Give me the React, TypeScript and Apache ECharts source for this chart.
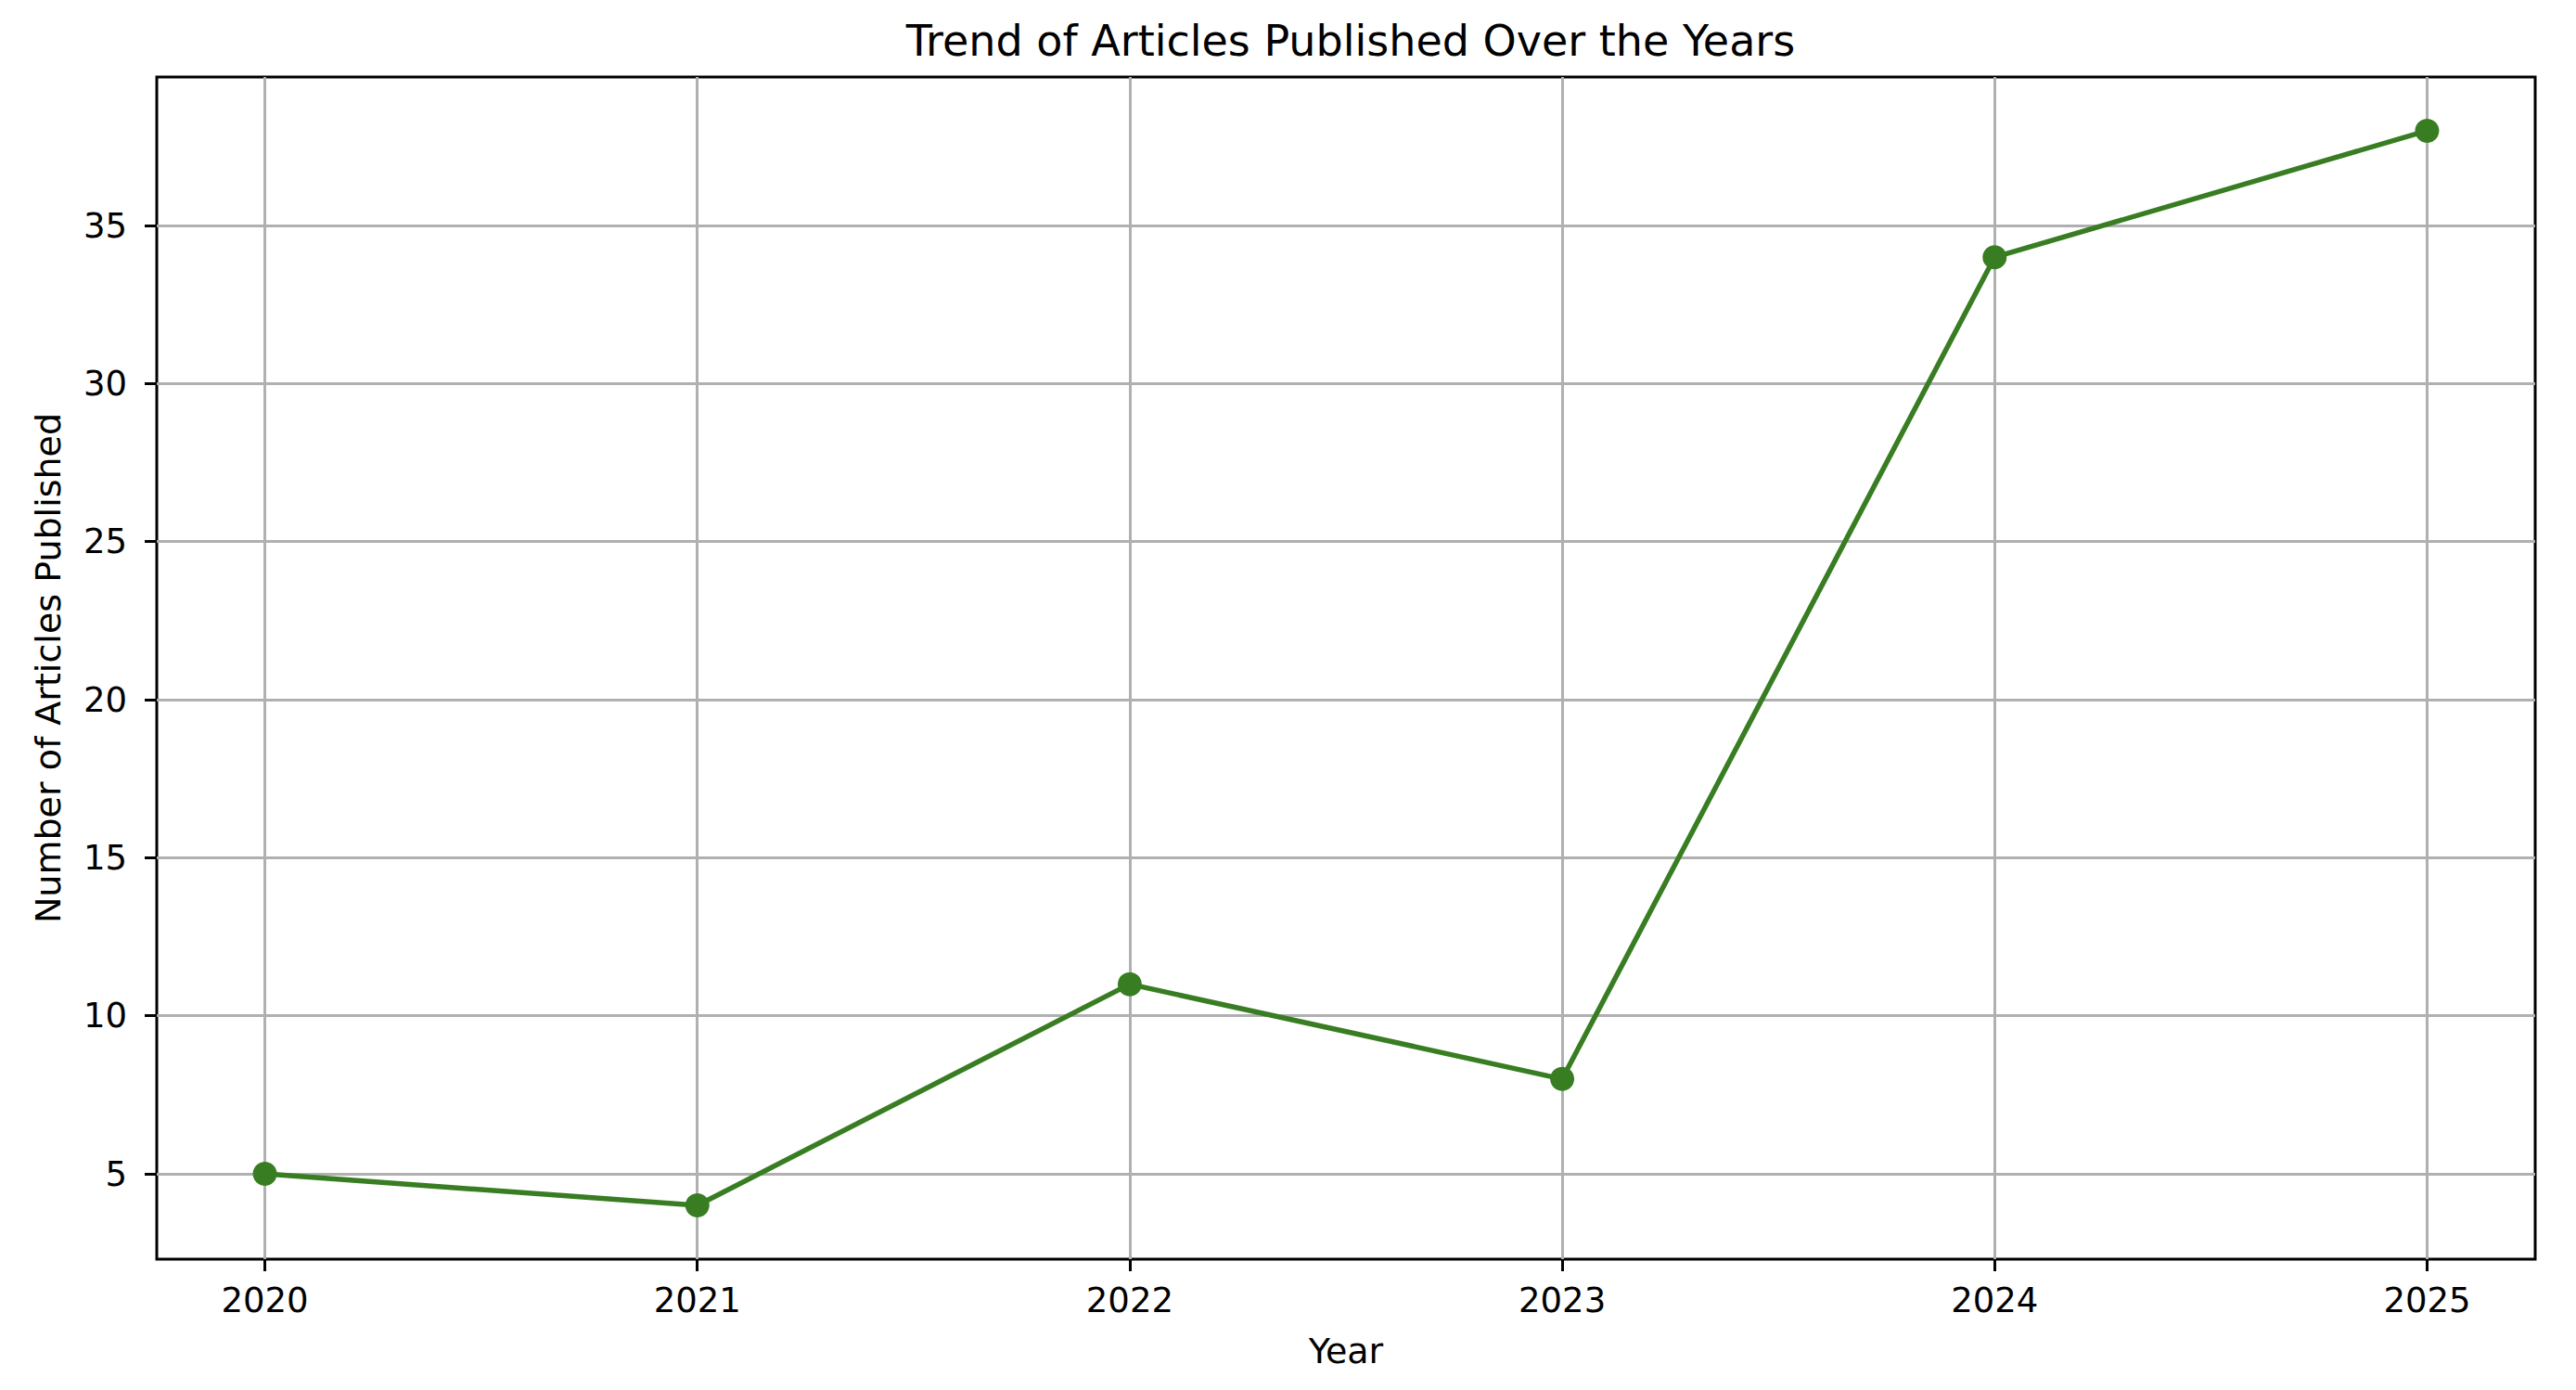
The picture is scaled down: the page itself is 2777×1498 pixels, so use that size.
import React, { useEffect, useRef } from "react";
import * as echarts from "echarts";

const years = [2020, 2021, 2022, 2023, 2024, 2025];
const articles = [5, 4, 11, 8, 34, 38];
const yTicks = [5, 10, 15, 20, 25, 30, 35];

const TITLE = "Trend of Articles Published Over the Years";
const X_NAME = "Year";
const Y_NAME = "Number of Articles Published";

const FONT = "DejaVu Sans";
const LINE_COLOR = "#387D22";
const GRID_COLOR = "#b0b0b0";

export default function App() {
  const ref = useRef<HTMLDivElement>(null);

  useEffect(() => {
    if (!ref.current) return;
    const chart = echarts.init(ref.current, null, { renderer: "svg" });
    const data = years.map((y, i) => [y, articles[i]]);
    chart.setOption({
      animation: false,
      backgroundColor: "#ffffff",
      title: {
        text: TITLE,
        left: 1451,
        textAlign: "center",
        top: 16,
        textStyle: {
          fontFamily: FONT,
          fontSize: 46,
          fontWeight: "normal",
          color: "#000",
        },
      },
      grid: {
        left: 169,
        top: 83,
        width: 2564,
        height: 1274,
        show: true,
        borderColor: "#000",
        borderWidth: 3,
        backgroundColor: "transparent",
        containLabel: false,
      },
      xAxis: {
        type: "value",
        min: 2019.75,
        max: 2025.25,
        name: X_NAME,
        nameLocation: "middle",
        nameGap: 80,
        nameTextStyle: { fontFamily: FONT, fontSize: 38, color: "#000" },
        axisLine: { show: false },
        axisTick: {
          show: true,
          inside: false,
          length: 13,
          customValues: years,
          lineStyle: { color: "#000", width: 3 },
        },
        axisLabel: {
          customValues: years,
          formatter: (v: number) => String(v),
          margin: 26,
          fontFamily: FONT,
          fontSize: 37,
          color: "#000",
        },
        splitLine: {
          show: true,
          lineStyle: { color: GRID_COLOR, width: 3 },
        },
      },
      yAxis: {
        type: "value",
        min: 2.3,
        max: 39.7,
        name: Y_NAME,
        nameLocation: "middle",
        nameGap: 98,
        nameTextStyle: { fontFamily: FONT, fontSize: 38, color: "#000" },
        axisLine: { show: false },
        axisTick: {
          show: true,
          inside: false,
          length: 13,
          customValues: yTicks,
          lineStyle: { color: "#000", width: 3 },
        },
        axisLabel: {
          customValues: yTicks,
          margin: 32,
          fontFamily: FONT,
          fontSize: 37,
          color: "#000",
        },
        splitLine: {
          show: true,
          lineStyle: { color: GRID_COLOR, width: 3 },
        },
      },
      series: [
        {
          type: "line",
          data,
          symbol: "circle",
          symbolSize: 26,
          showSymbol: true,
          lineStyle: { color: LINE_COLOR, width: 5.5 },
          itemStyle: { color: LINE_COLOR, borderWidth: 0 },
        },
      ],
    });
    return () => chart.dispose();
  }, []);

  return (
    <div
      ref={ref}
      style={{ position: "fixed", left: 0, top: 0, width: 2777, height: 1498 }}
    />
  );
}
